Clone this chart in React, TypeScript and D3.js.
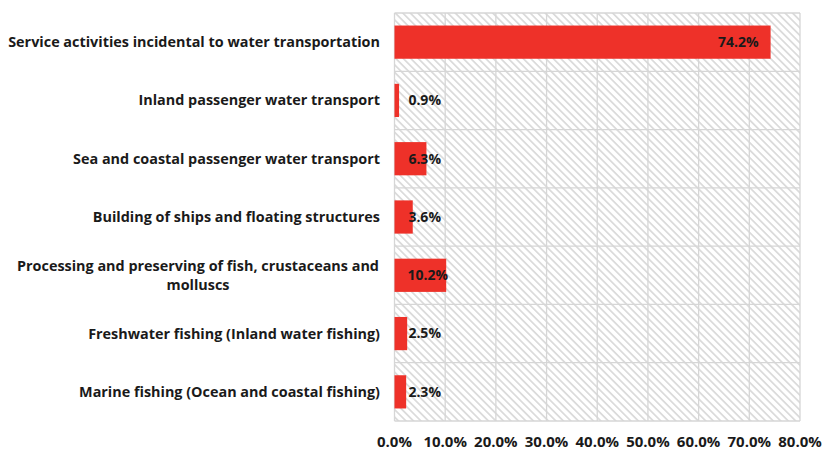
import React from "react";
import * as d3 from "d3";

const categories: string[][] = [
  ["Service activities incidental to water transportation"],
  ["Inland passenger water transport"],
  ["Sea and coastal passenger water transport"],
  ["Building of ships and floating structures"],
  ["Processing and preserving of fish, crustaceans and", "molluscs"],
  ["Freshwater fishing (Inland water fishing)"],
  ["Marine fishing (Ocean and coastal fishing)"],
];
const values: number[] = [74.2, 0.9, 6.3, 3.6, 10.2, 2.5, 2.3];
const ticks: number[] = [0, 10, 20, 30, 40, 50, 60, 70, 80];

const W = 832;
const H = 458;
const left = 394.5;
const right = 800;
const top = 13;
const bottom = 421;
const font = "'Open Sans', sans-serif";
const textColor = "#1a1a1a";

export default function App() {
  const x = d3.scaleLinear().domain([0, 80]).range([left, right]);
  const y = d3
    .scaleBand<number>()
    .domain(d3.range(categories.length))
    .range([top, bottom])
    .paddingInner(0.43)
    .paddingOuter(0.215);
  const band = (bottom - top) / categories.length;
  return (
    <svg
      width={W}
      height={H}
      style={{ position: "absolute", left: 0, top: 0, background: "#fff" }}
    >
      <defs>
        <pattern
          id="hatch"
          width="5.3"
          height="5.3"
          patternUnits="userSpaceOnUse"
          patternTransform="rotate(45)"
        >
          <rect width="5.3" height="5.3" fill="#ffffff" />
          <line x1="0" y1="0" x2="5.3" y2="0" stroke="#d8d8d8" strokeWidth="1.6" />
          <line x1="0" y1="5.3" x2="5.3" y2="5.3" stroke="#d8d8d8" strokeWidth="1.6" />
        </pattern>
      </defs>
      <rect x={left} y={top} width={right - left} height={bottom - top} fill="url(#hatch)" />
      {ticks.map((t) => (
        <line
          key={"v" + t}
          x1={x(t)}
          x2={x(t)}
          y1={top}
          y2={bottom}
          stroke="#d6d6d6"
          strokeWidth={1.3}
        />
      ))}
      {d3.range(categories.length + 1).map((i) => (
        <line
          key={"h" + i}
          x1={left}
          x2={right}
          y1={top + i * band}
          y2={top + i * band}
          stroke="#d6d6d6"
          strokeWidth={1.3}
        />
      ))}
      {values.map((v, i) => (
        <rect
          key={"b" + i}
          x={x(0)}
          y={y(i)!}
          width={x(v) - x(0)}
          height={y.bandwidth()}
          fill="#ee3129"
        />
      ))}
      {values.map((v, i) => {
        const inside = v > 50;
        const xe = inside ? x(v) - 12 : Math.max(x(v) + 2, x(0) + 46.5);
        return (
          <text
            key={"l" + i}
            x={xe}
            y={top + (i + 0.5) * band}
            dy="0.35em"
            textAnchor="end"
            fontFamily={font}
            fontWeight={700}
            fontSize={14}
            fill={textColor}
          >
            {v.toFixed(1) + "%"}
          </text>
        );
      })}
      {categories.map((lines, i) => {
        const cy = top + (i + 0.5) * band;
        const lh = 19;
        if (lines.length === 1) {
          return (
            <text
              key={"c" + i}
              x={380}
              y={cy}
              dy="0.35em"
              textAnchor="end"
              fontFamily={font}
              fontWeight={700}
              fontSize={14.4}
              fill={textColor}
            >
              {lines[0]}
            </text>
          );
        }
        return (
          <text
            key={"c" + i}
            x={198}
            y={cy}
            textAnchor="middle"
            fontFamily={font}
            fontWeight={700}
            fontSize={14.4}
            fill={textColor}
          >
            {lines.map((l, j) => (
              <tspan key={j} x={198} y={cy - ((lines.length - 1) * lh) / 2 + j * lh} dy="0.35em">
                {l}
              </tspan>
            ))}
          </text>
        );
      })}
      {ticks.map((t) => (
        <text
          key={"t" + t}
          x={x(t)}
          y={442}
          dy="0.35em"
          textAnchor="middle"
          fontFamily={font}
          fontWeight={700}
          fontSize={15}
          fill={textColor}
        >
          {t.toFixed(1) + "%"}
        </text>
      ))}
    </svg>
  );
}
